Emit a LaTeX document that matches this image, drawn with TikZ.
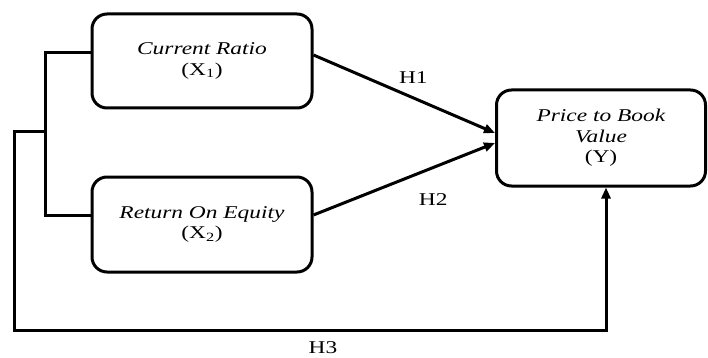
\documentclass[tikz,border=0pt]{standalone}
\usepackage{fontspec}
\setmainfont{Liberation Serif}[FakeStretch=1.3]
\usetikzlibrary{arrows.meta}
\begin{document}
\begin{tikzpicture}[x=1pt,y=-1pt,
    box/.style={draw, line width=3pt, rounded corners=15pt, align=center,
      font=\fontsize{18}{20.5}\selectfont},
    arr/.style={line width=3pt, -{Triangle[length=11pt,width=9pt]}},
    lbl/.style={font=\fontsize{18}{20}\selectfont}]
  \useasboundingbox (0,0) rectangle (708,358);
  \node[box, minimum width=220pt, minimum height=94pt] (cr) at (202,61) {\textit{Current Ratio}\\(X\textsubscript{1})};
  \node[box, minimum width=220pt, minimum height=95pt] (roe) at (202,224.5) {\textit{Return On Equity}\\(X\textsubscript{2})};
  \node[box, minimum width=209pt, minimum height=96pt] (pbv) at (601,138) {\textit{Price to Book}\\\textit{Value}\\(Y)};
  \coordinate (brk) at (45,132);
  \coordinate (low) at (14,330);

  \draw [arr] ([yshift=6pt]cr.east) -- node [lbl, pos=0.55, yshift=20pt] {H1} ([yshift=5pt]pbv.west);
  \draw [arr] ([yshift=9.5pt]roe.east) -- node [lbl, pos=0.66, yshift=-32pt] {H2} ([yshift=-5pt]pbv.west);
  \draw [line width=3pt] ([yshift=8pt]cr.west) -| (brk) |- ([yshift=9.5pt]roe.west);
  \draw [arr] (brk) -| (low) -| ([xshift=5pt]pbv.south);
  \node [lbl] (h3) at (323,348) {H3};
\end{tikzpicture}
\end{document}
